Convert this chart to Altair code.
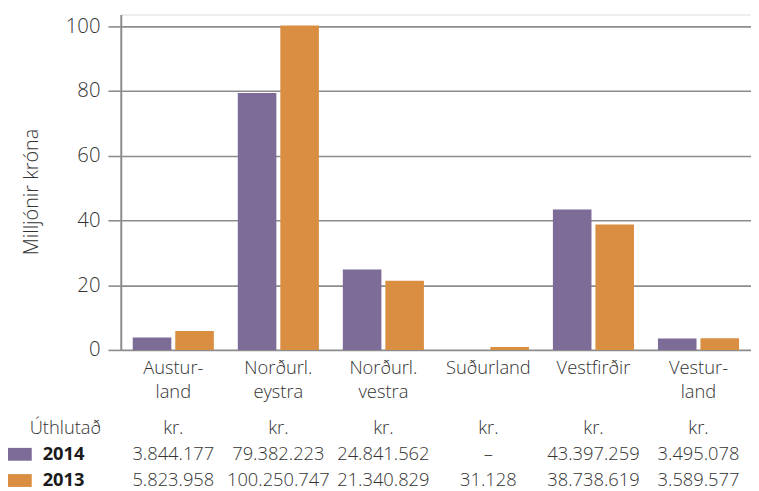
import altair as alt
import pandas as pd

# ---- data ----
categories = ["Austurland", "Norðurl. eystra", "Norðurl. vestra", "Suðurland", "Vestfirðir", "Vesturland"]
cat_labels = ["Austur-\nland", "Norðurl.\neystra", "Norðurl.\nvestra", "Suðurland", "Vestfirðir", "Vestur-\nland"]
years = ["2014", "2013"]
values_2014 = [3.84, 79.38, 24.84, 0.0, 43.40, 3.50]      # milljónir króna
values_2013 = [5.82, 100.25, 21.34, 0.9, 38.74, 3.59]     # milljónir króna
text_2014 = ["3.844.177", "79.382.223", "24.841.562", "–", "43.397.259", "3.495.078"]
text_2013 = ["5.823.958", "100.250.747", "21.340.829", "31.128", "38.738.619", "3.589.577"]
unit_text = ["kr."] * 6
y_ticks = [0, 20, 40, 60, 80, 100]

PURPLE = "#7d6b98"
ORANGE = "#d98e41"
GRID = "#8c8c8c"
TXT = "#333333"
FONT = "Open Sans"

PLOT_W = 637
PLOT_H = 339

bars_df = pd.DataFrame({
    "region": cat_labels * 2,
    "year": [years[0]] * 6 + [years[1]] * 6,
    "value": values_2014 + values_2013,
})

rows = ["kr.", "2014", "2013"]
table_df = pd.DataFrame({
    "region": cat_labels * 3,
    "row": [rows[0]] * 6 + [rows[1]] * 6 + [rows[2]] * 6,
    "text": unit_text + text_2014 + text_2013,
})
header_df = pd.DataFrame({"row": ["kr."], "text": ["Úthlutað"]})
legend_df = pd.DataFrame({"row": years, "year": years, "text": years})

x_enc = alt.X(
    "region:N", sort=cat_labels,
    scale=alt.Scale(paddingInner=0.228, paddingOuter=0.114),
    axis=alt.Axis(
        title=None, domain=False, ticks=False, labelAngle=0,
        labelExpr="split(datum.label, '\\n')",
        labelPadding=9, labelFont=FONT, labelFontSize=18.5, labelFontWeight=300,
        labelColor=TXT, labelLineHeight=24,
    ),
)
color_enc = alt.Color(
    "year:N", scale=alt.Scale(domain=years, range=[PURPLE, ORANGE]), legend=None
)

bars = alt.Chart(bars_df).mark_bar(opacity=1).encode(
    x=x_enc,
    xOffset=alt.XOffset("year:N", sort=years, scale=alt.Scale(paddingInner=0.093, paddingOuter=0)),
    y=alt.Y(
        "value:Q",
        scale=alt.Scale(domain=[0, 103.6], nice=False, zero=True),
        axis=alt.Axis(
            values=y_ticks, title="Milljónir króna", grid=True,
            gridColor=GRID, gridWidth=1.6, gridOpacity=1,
            domainColor=GRID, domainWidth=2,
            tickColor=GRID, tickWidth=1.6, tickSize=13,
            labelPadding=8, labelFont=FONT, labelFontSize=20.5, labelFontWeight=300,
            labelColor=TXT,
            titleFont=FONT, titleFontSize=20, titleFontWeight=300, titleColor=TXT,
            titleX=-80, titleY=179, titleAngle=270, titleAlign="center", titleBaseline="bottom",
        ),
    ),
    color=color_enc,
)

row_scale = alt.Scale(type="point", domain=rows, range=[424, 477], padding=0)

table = alt.Chart(table_df).mark_text(
    font=FONT, fontSize=18.5, fontWeight=300, color=TXT, baseline="alphabetic", align="center"
).encode(
    x=alt.X("region:N", sort=cat_labels),
    y=alt.Y("row:N", scale=row_scale, axis=None),
    text="text:N",
)

header = alt.Chart(header_df).mark_text(
    font=FONT, fontSize=18.5, fontWeight=300, color=TXT, baseline="alphabetic", align="right"
).encode(
    x=alt.value(-20),
    y=alt.Y("row:N", scale=row_scale, axis=None),
    text="text:N",
)

year_labels = alt.Chart(legend_df).mark_text(
    font=FONT, fontSize=18.5, fontWeight=700, color="#1a1a1a", baseline="alphabetic", align="left"
).encode(
    x=alt.value(-79),
    y=alt.Y("row:N", scale=row_scale, axis=None),
    text="text:N",
)

swatches = alt.Chart(legend_df).mark_point(
    filled=True, opacity=1, strokeWidth=0, size=576,
    shape="M-1,-1.04L1,-1.04L1,0.04L-1,0.04Z",
).encode(
    x=alt.value(-102),
    y=alt.Y("row:N", scale=row_scale, axis=None),
    color=color_enc,
)

table_layer = alt.layer(table, header, year_labels, swatches)

chart = alt.layer(bars, table_layer).resolve_scale(y="independent").properties(
    width=PLOT_W,
    height=PLOT_H,
    autosize=alt.AutoSizeParams(type="none"),
    padding={"left": 114, "top": 4, "right": 0, "bottom": 140},
).configure_view(stroke=None).configure(background="white")

chart.save("out.html", embed_options={"renderer": "svg", "actions": False})
